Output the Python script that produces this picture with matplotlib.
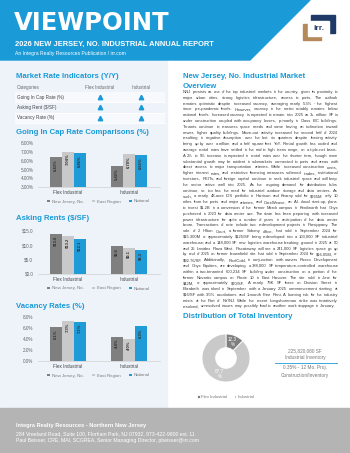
import matplotlib
matplotlib.use("Agg")
import matplotlib.pyplot as plt
import numpy as np
from matplotlib.font_manager import FontProperties
from matplotlib.patches import Rectangle, Polygon

plt.rcParams['font.family'] = ['Liberation Sans', 'DejaVu Sans']

# ---- data ----
groups = ["Flex Industrial", "Industrial"]
series = ["New Jersey, No.", "East Region", "National"]

cap_nj = [6.43, 5.40]
cap_east = [7.04, 6.78]
cap_nat = [6.86, 6.65]

rent_nj = [13.8, 9.6]
rent_east = [13.2, 9.1]
rent_nat = [12.1, 8.3]

vac_nj = [6.1, 4.4]
vac_east = [7.3, 4.0]
vac_nat = [7.1, 6.3]

indicator_rows = ["Going In Cap Rate (%)", "Asking Rent ($/SF)", "Vacancy Rate (%)"]
indicator_flex = ["up", "up", "up"]
indicator_ind = ["up", "up", "up"]

inv_labels = ["Flex Industrial", "Industrial"]
inv_share = [12.3, 87.7]
inv_total = "225,820,080 SF"
inv_constr = "0.35% - 12 Mo. Proj."

overview = (
    "NNJ persists as one of the top industrial markets in the country, given its "
    "proximity to major urban cities, strong logistics infrastructure, access to ports. "
    "The outlook remains optimistic despite increased vacancy, averaging nearly 5.3% "
    "- the highest since pre-pandemic levels. However, vacancy in the metro notably "
    "remains below national levels. Increased vacancy is expected to remain into 2025 "
    "as 3+ million SF is under construction coupled with occupancy losses, primarily "
    "in Class B/C buildings. Tenants continue to reassess space needs and some "
    "having an inclination toward newer, higher quality buildings. Move-out activity "
    "increased the second half of 2024 resulting in negative absorption over the last "
    "six quarters despite leasing activity being up by over a million and a half square "
    "feet YoY. Rental growth has cooled and average rental rates have settled in the "
    "mid to high teens range, on a triple-net basis. A 2% to 5% increase is expected in "
    "rental rates over the shorter term, though more substantial growth may be "
    "evident in submarkets connected to ports and areas with direct access to major "
    "transportation arteries. While increased construction costs, higher interest rates, "
    "and restrictive financing measures softened trades, institutional investors, REITs, "
    "and foreign capital continue to seek industrial space and will keep the sector "
    "active well into 2025. As the ongoing demand for distribution hubs continue, so "
    "too has the need for industrial outdoor storage and data centers. As such, a nearly "
    "48-acre IOS portfolio in Harrison and Kearny sold for $765M only 10 miles from "
    "the ports and major arteries, and CoreWeave, an A.I. cloud start-up, plans to "
    "invest $1.2B in a conversion of the former Merck campus in Kenilworth that Onyx "
    "purchased in 2023 for data center use. The state has been preparing with "
    "increased power infrastructure for quite a number of years in anticipation of the "
    "data center boom. Transactions of note include two redevelopment projects in "
    "Parsippany. The sale of 2 Hilton Court, a former Sobany office, that sold in "
    "September 2024 for $15.300M or approximately $125/SF being redeveloped into "
    "a 103,000 SF industrial warehouse; and a 148,000 SF new logistics warehouse "
    "breaking ground in 2025 at 50 and 25 Lanidex Plaza West. Piscataway will see a "
    "241,000 SF logistics space go up by end of 2025 on former brownfield site that "
    "sold in September 2024 for $16.05M, or $92.76/SF. Additionally, RealCold, in "
    "conjunction with owners Russo Development and Onyx Equities, are developing "
    "a 388,000 SF temperature-controlled warehouse within a two-tenanted 600,234 "
    "SF building under construction on a portion of the former Novartis campus on "
    "Route 10 in East Hanover. The site sold in June for $42M, or approximately "
    "$70/SF. A nearly 79K SF lease on Division Street in Elizabeth was inked in "
    "September with a January 2025 commencement starting at $16/SF with 3.5% "
    "escalations and 1-month Free Rent. A looming risk for the industry exists at the "
    "Port of NY/NJ. While the recent Longshoreman strike was tentatively resolved, "
    "unresolved issues may possibly lead to another work stoppage in January."
)

# ---- page setup ----
W, H = 350, 453
BLUE = "#1a9ad7"
colors = ["#7f7f7f", "#c9c9c9", "#1f9bd7"]
TITLE_FS = 5.6

fig = plt.figure(figsize=(3.5, 4.53), dpi=100)
bg = fig.add_axes([0, 0, 1, 1])
bg.set_xlim(0, W)
bg.set_ylim(H, 0)
bg.axis("off")


def px_axes(x0, y0, x1, y1):
    return fig.add_axes([x0 / W, 1 - y1 / H, (x1 - x0) / W, (y1 - y0) / H])


# backgrounds
bg.add_patch(Rectangle((0, 0), W, H, color="white", zorder=0))
bg.add_patch(Rectangle((0, 60), 167, 349, color="#eef3fa", zorder=0))
bg.add_patch(Rectangle((0, 408), W, 45, color="#b4b4b4", zorder=0))
bg.add_patch(Polygon([(0, 0), (310, 0), (250, 60), (0, 60)], color=BLUE, zorder=1))

# header
bg.text(14, 23.5, "VIEWPOINT", color="white", fontsize=17.5, fontweight="bold",
        family="DejaVu Sans", va="center", ha="left")
bg.text(15, 44, "2026 NEW JERSEY, NO. INDUSTRIAL ANNUAL REPORT", color="white",
        fontsize=5.4, fontweight="bold", va="center")
bg.text(15, 53, "An Integra Realty Resources Publication / irr.com", color="white",
        fontsize=3.6, va="center")

# logo
bg.add_patch(Rectangle((311, 15), 24, 18, color="#1f3a68", zorder=2))
bg.add_patch(Rectangle((303, 24), 18, 16, color="#b5895a", zorder=2))
bg.add_patch(Rectangle((308, 21), 21, 15, color="white", zorder=3))
bg.text(318.5, 29, "irr.", color="#1f3a68", fontsize=6, fontweight="bold",
        ha="center", va="center", zorder=4)

# ---- market rate indicators table ----
bg.text(16, 76, "Market Rate Indicators (Y/Y)", color=BLUE, fontsize=TITLE_FS,
        fontweight="bold", va="center")
bg.text(17, 87.5, "Categories", color="#666666", fontsize=3.3, va="center")
bg.text(100, 87.5, "Flex Industrial", color="#666666", fontsize=3.3, va="center", ha="center")
bg.text(141, 87.5, "Industrial", color="#666666", fontsize=3.3, va="center", ha="center")
row_top = 92
for i, name in enumerate(indicator_rows):
    y0 = row_top + i * 10.3
    bg.add_patch(Rectangle((15, y0), 150, 10.3, facecolor="#f7f9fd" if i % 2 == 0 else "#eef3fa",
                           edgecolor="none", zorder=1))
    bg.plot([15, 165], [y0 + 10.3, y0 + 10.3], color="white", lw=0.6, zorder=2)
    bg.text(17, y0 + 5.1, name, color="#444444", fontsize=3.3, va="center", zorder=3)
    for cx, d in [(100, indicator_flex[i]), (141, indicator_ind[i])]:
        marker = "^" if d == "up" else "v"
        bg.plot([cx], [y0 + 5.1], marker=marker, color=BLUE, markersize=3.2, zorder=3, ls="none")


# ---- bar charts ----
def bar_chart(title, ty, top, bottom, data, ylim, ticks, tickfmt, labfmt):
    bg.text(16, ty, title, color=BLUE, fontsize=TITLE_FS, fontweight="bold", va="center")
    ax = px_axes(37.5, top, 159.5, bottom)
    ax.set_facecolor("none")
    x = np.arange(len(groups))
    for i, (name, vals, col) in enumerate(zip(series, data, colors)):
        bars = ax.bar(x + (i - 1) * 0.2, vals, 0.2, color=col, label=name)
        for b, v in zip(bars, vals):
            ax.annotate(labfmt(v), (b.get_x() + b.get_width() / 2, v), xytext=(0, -1.5),
                        textcoords="offset points", rotation=90, ha="center", va="top",
                        fontsize=3, fontweight="bold", color="#333333")
    ax.set_xlim(-0.5, 1.5)
    ax.set_ylim(*ylim)
    ax.set_yticks(ticks)
    ax.set_yticklabels([tickfmt(t) for t in ticks])
    ax.set_xticks(x)
    ax.set_xticklabels(groups)
    for s in ["top", "right", "left"]:
        ax.spines[s].set_visible(False)
    ax.spines["bottom"].set_color("#d0d0d0")
    ax.spines["bottom"].set_linewidth(0.5)
    ax.tick_params(length=0, labelsize=3.3, colors="#666666", pad=3)
    ax.tick_params(axis="x", colors="#444444", pad=2.5)
    h = bottom - top
    ax.legend(loc="center", bbox_to_anchor=(0.5, -14.5 / h), ncol=3, fontsize=3.2,
              frameon=False, handlelength=0.6, handleheight=0.6, columnspacing=2.0,
              handletextpad=0.4, labelcolor="#777777")
    return ax


bar_chart("Going In Cap Rate Comparisons (%)", 132, 143.3, 187,
          [cap_nj, cap_east, cap_nat], (3, 8), [3, 4, 5, 6, 7, 8],
          lambda t: f"{t:.2f}%", lambda v: f"{v:.2f}%")
bar_chart("Asking Rents ($/SF)", 219, 230.5, 274,
          [rent_nj, rent_east, rent_nat], (0, 15), [0, 5, 10, 15],
          lambda t: f"${t:.1f}", lambda v: f"${v:.1f}")
bar_chart("Vacancy Rates (%)", 306, 317, 361,
          [vac_nj, vac_east, vac_nat], (0, 8), [0, 2, 4, 6, 8],
          lambda t: f"{t:.1f}%", lambda v: f"{v:.1f}%")

# ---- overview text ----
bg.text(183, 76, "New Jersey, No. Industrial Market", color=BLUE, fontsize=TITLE_FS,
        fontweight="bold", va="center")
bg.text(183, 86, "Overview", color=BLUE, fontsize=TITLE_FS, fontweight="bold", va="center")

renderer = fig.canvas.get_renderer()
fp = FontProperties(family="Liberation Sans", size=3.0)
scale = W / fig.bbox.width


def tw(s):
    w, _, _ = renderer.get_text_width_height_descent(s, fp, ismath=False)
    return w * scale


x0, x1 = 183, 338
space = tw("a b") - tw("ab")
lines, cur = [], []
for word in overview.split():
    trial = cur + [word]
    if cur and sum(tw(w) for w in trial) + space * (len(trial) - 1) > x1 - x0:
        lines.append(cur)
        cur = [word]
    else:
        cur = trial
lines.append(cur)

ly = 93
step = (307.5 - 93) / max(len(lines) - 1, 1)
for k, words in enumerate(lines):
    widths = [tw(w) for w in words]
    if k < len(lines) - 1 and len(words) > 1:
        gap = (x1 - x0 - sum(widths)) / (len(words) - 1)
    else:
        gap = space
    xx = x0
    for w, wd in zip(words, widths):
        bg.text(xx, ly, w, fontproperties=fp, color="#3a3a3a", va="baseline", ha="left",
                parse_math=False)
        xx += wd + gap
    ly += step

# ---- distribution of total inventory ----
bg.text(183, 316.5, "Distribution of Total Inventory", color=BLUE, fontsize=TITLE_FS,
        fontweight="bold", va="center")
pax = px_axes(196, 328, 256, 388)
wedges, _, autot = pax.pie(inv_share, colors=[colors[0], colors[1]], startangle=90,
                           counterclock=False, radius=1,
                           wedgeprops=dict(width=0.57, edgecolor="white", linewidth=0.6),
                           autopct=lambda p: f"{p:.1f}\n%", pctdistance=0.72,
                           textprops=dict(color="white", fontsize=3.3))
pax.set_aspect("equal")
pax.legend(wedges, inv_labels, loc="center", bbox_to_anchor=(0.5, -0.15), ncol=2,
           fontsize=3.1, frameon=False, handlelength=0.6, handleheight=0.6,
           columnspacing=1.5, handletextpad=0.4, labelcolor="#777777")

bg.text(305, 350.7, inv_total, color="#777777", fontsize=3.4, ha="center", va="center")
bg.text(305, 358, "Industrial Inventory", color="#777777", fontsize=3.4, ha="center", va="center")
bg.plot([275, 337], [363.3, 363.3], color=BLUE, lw=0.6)
bg.text(305, 368, inv_constr, color="#777777", fontsize=3.4, ha="center", va="center")
bg.text(305, 375, "Construction/Inventory", color="#777777", fontsize=3.4, ha="center", va="center")

# ---- footer ----
bg.text(16, 425, "Integra Realty Resources - Northern New Jersey", color="white",
        fontsize=4.1, fontweight="bold", va="center")
bg.text(16, 434, "284 Vreeland Road, Suite 100, Florham Park, NJ 07932, 973-422-9800 ext. 11",
        color="white", fontsize=3.7, va="center")
bg.text(16, 440.5, "Paul Beisser, CRE, MAI, SCGREA, Senior Managing Director, pbeisser@irr.com",
        color="white", fontsize=3.7, va="center")

fig.savefig("out.png", dpi=100)
